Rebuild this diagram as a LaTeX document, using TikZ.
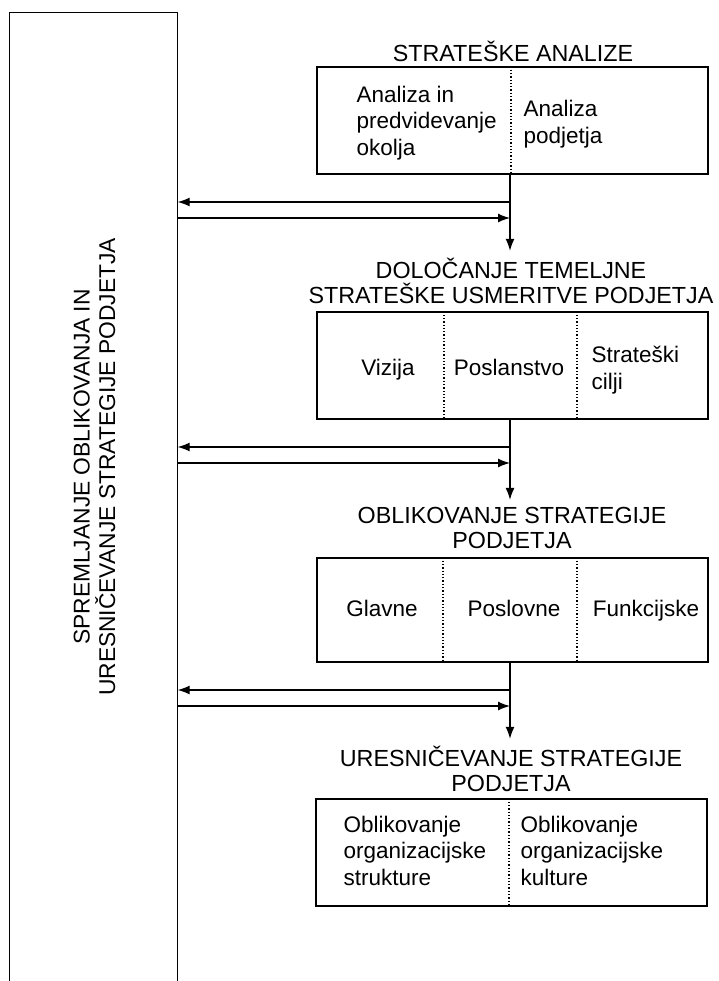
\documentclass[tikz,border=0pt]{standalone}
\usepackage{fontspec}
\setmainfont{Liberation Sans}
\usetikzlibrary{arrows.meta}
\begin{document}
\begin{tikzpicture}[x=1pt,y=-1pt,
  line width=1.3pt,
  txt/.style={font=\fontsize{22.5}{26.5}\selectfont, inner sep=0pt, align=left,
    execute at begin node=\strut, execute at end node=\strut},
  ttl/.style={font=\fontsize{23.3}{24.5}\selectfont, inner sep=0pt, align=center,
    execute at begin node=\strut, execute at end node=\strut},
  stagebox/.style={draw, line width=1.3pt, minimum width=391pt, inner sep=0pt},
  divider/.style={line width=1.3pt, dotted},
  arr/.style={line width=1.3pt, -{Latex[length=12pt,width=9pt]}}
]
\useasboundingbox (0,0) rectangle (718,981);
\fill[white] (0,0) rectangle (718,981);

% left monitoring column
\node[minimum width=167pt, minimum height=990pt, inner sep=0pt] (mon) at (93.5,508) {};
\draw (mon.south west) -- (mon.north west) -- (mon.north east) -- (mon.south east);
\node[inner sep=0pt, align=center, rotate=90, font=\fontsize{22.8}{25.5}\selectfont] (montxt) at (94.5,467)
  {SPREMLJANJE OBLIKOVANJA IN\\URESNIČEVANJE STRATEGIJE PODJETJA};

\coordinate (v) at (510,0);

% stage 1
\node[ttl] (t1) at (513,55) {STRATEŠKE ANALIZE};
\node[stagebox, minimum height=107pt] (b1) at (512.5,120.5) {};
\coordinate (d1) at (511,0);
\draw[divider] (b1.north -| d1) -- (b1.south -| d1);
\node[txt, anchor=west] (b1l) at (356,124.5) {Analiza in\\predvidevanje\\okolja};
\node[txt, anchor=west] (b1r) at (523,126) {Analiza\\podjetja};

% stage 2
\node[ttl] (t2) at (511,284.6) {DOLOČANJE TEMELJNE\\STRATEŠKE USMERITVE PODJETJA};
\node[stagebox, minimum height=107pt] (b2) at (512.5,365.5) {};
\coordinate (d2a) at (444,0);
\coordinate (d2b) at (577,0);
\draw[divider] (b2.north -| d2a) -- (b2.south -| d2a);
\draw[divider] (b2.north -| d2b) -- (b2.south -| d2b);
\node[txt] (b2a) at (388,369.7) {Vizija};
\node[txt] (b2b) at (509,369.7) {Poslanstvo};
\node[txt, anchor=west] (b2c) at (591,371.7) {Strateški\\cilji};

% stage 3
\node[ttl] (t3) at (512,531.6) {OBLIKOVANJE STRATEGIJE\\PODJETJA};
\node[stagebox, minimum height=104pt] (b3) at (512.5,610) {};
\coordinate (d3a) at (443,0);
\coordinate (d3b) at (577,0);
\draw[divider] (b3.north -| d3a) -- (b3.south -| d3a);
\draw[divider] (b3.north -| d3b) -- (b3.south -| d3b);
\node[txt] (b3a) at (382,610.7) {Glavne};
\node[txt] (b3b) at (514,610.7) {Poslovne};
\node[txt] (b3c) at (646,610.7) {Funkcijske};

% stage 4
\node[ttl] (t4) at (511,772.6) {URESNIČEVANJE STRATEGIJE\\PODJETJA};
\node[stagebox, minimum height=107pt] (b4) at (511.5,852.5) {};
\coordinate (d4) at (509,0);
\draw[divider] (b4.north -| d4) -- (b4.south -| d4);
\node[txt, anchor=west] (b4l) at (343,854.4) {Oblikovanje\\organizacijske\\strukture};
\node[txt, anchor=west] (b4r) at (520,854.4) {Oblikovanje\\organizacijske\\kulture};

% flow connectors
\draw[arr] (b1.south -| v) -- ([yshift=7pt]t2.north -| v);
\draw[arr] (b2.south -| v) -- ([yshift=7pt]t3.north -| v);
\draw[arr] (b3.south -| v) -- ([yshift=7pt]t4.north -| v);

% feedback arrows
\coordinate (f1) at (510,202);
\coordinate (g1) at (510,218);
\coordinate (f2) at (510,447);
\coordinate (g2) at (510,463);
\coordinate (f3) at (510,690);
\coordinate (g3) at (510,706);
\foreach \f/\g in {f1/g1,f2/g2,f3/g3}{
  \draw[arr] (\f) -- (\f -| mon.east);
  \draw[arr] (\g -| mon.east) -- (\g);
}
\end{tikzpicture}
\end{document}
